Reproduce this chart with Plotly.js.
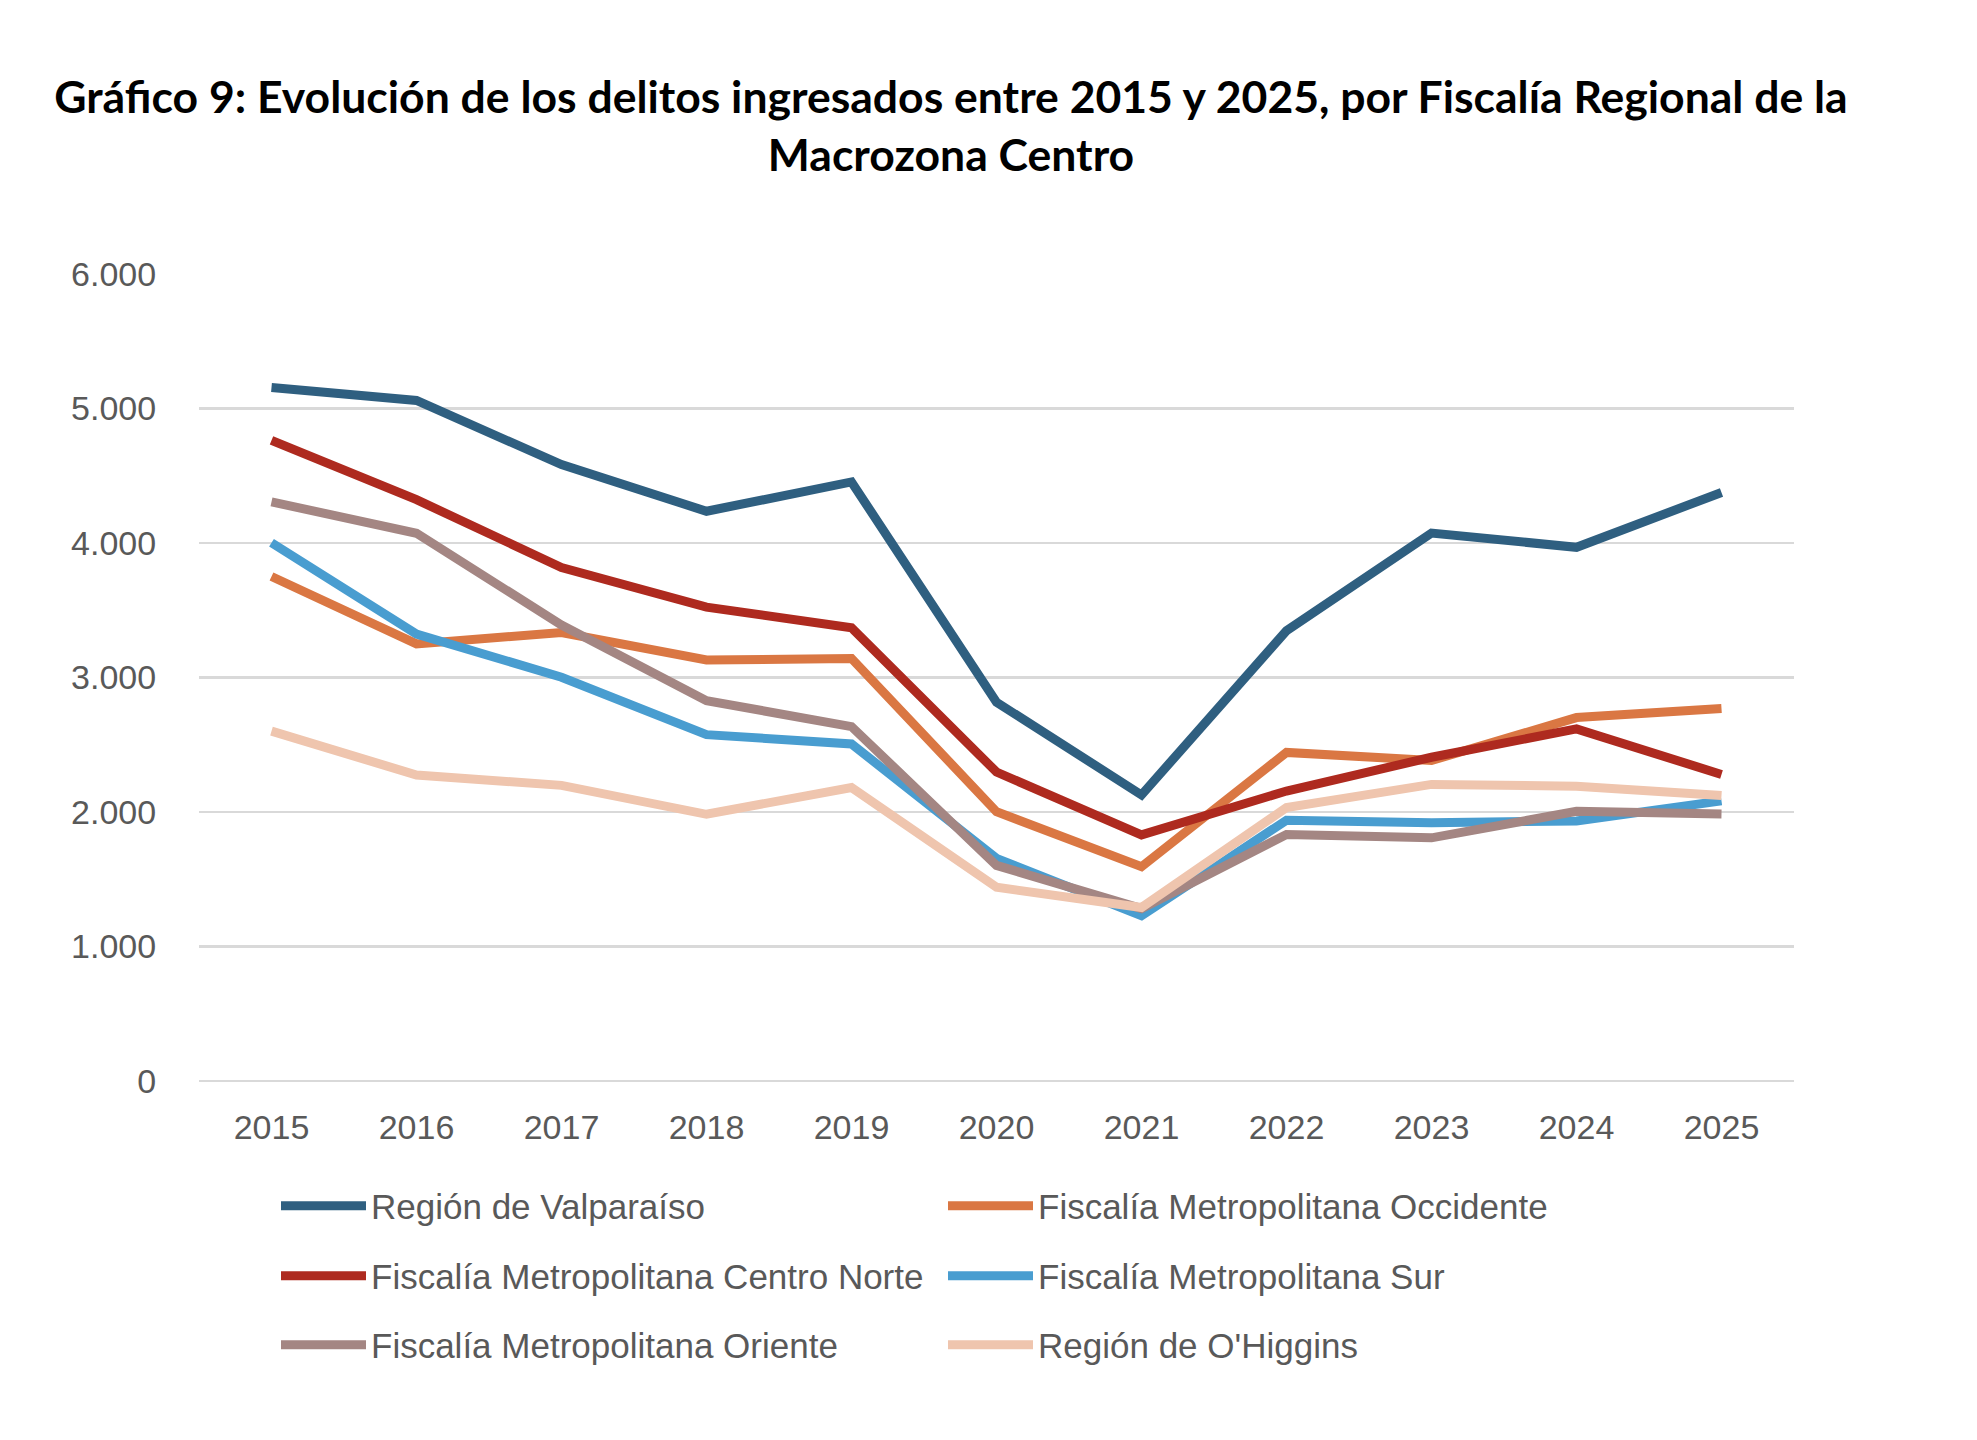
<!DOCTYPE html>
<html>
<head>
<meta charset="utf-8">
<script src="https://cdn.plot.ly/plotly-3.0.1.min.js"></script>
<style>
  html, body { margin: 0; padding: 0; background: #fff; }
  #chart { width: 1977px; height: 1440px; }
</style>
</head>
<body>
<div id="chart"></div>
<script>
  // Delitos ingresados por Fiscalía Regional, Macrozona Centro
  const years = ['2015', '2016', '2017', '2018', '2019', '2020', '2021', '2022', '2023', '2024', '2025'];

  const valparaiso = [5156, 5060, 4583, 4236, 4454, 2816, 2127, 3348, 4074, 3968, 4376];
  const occidente = [3751, 3250, 3334, 3130, 3142, 2002, 1593, 2443, 2383, 2702, 2770];
  const centroNorte = [4763, 4322, 3818, 3523, 3370, 2297, 1830, 2156, 2407, 2618, 2279];
  const sur = [4002, 3323, 3002, 2575, 2506, 1655, 1229, 1939, 1921, 1934, 2083];
  const oriente = [4306, 4072, 3390, 2828, 2635, 1603, 1282, 1833, 1808, 2005, 1986];
  const ohiggins = [2601, 2275, 2198, 1983, 2182, 1441, 1290, 2033, 2205, 2192, 2123];

  const seriesNames = [
    'Región de Valparaíso',
    'Fiscalía Metropolitana Occidente',
    'Fiscalía Metropolitana Centro Norte',
    'Fiscalía Metropolitana Sur',
    'Fiscalía Metropolitana Oriente',
    "Región de O'Higgins",
  ];
  const seriesValues = [valparaiso, occidente, centroNorte, sur, oriente, ohiggins];
  const seriesColors = ['#2f5f80', '#da7743', '#ae2a1f', '#499dd0', '#a48683', '#efc5ae'];
  // two entries per legend row
  const legendIds = ['legend', 'legend', 'legend2', 'legend2', 'legend3', 'legend3'];

  const W = 1977;
  const H = 1440;
  const textGray = '#595959';
  const gridGray = '#d9d9d9';
  const bodyFont = 'Liberation Sans, Arial, sans-serif';

  const traces = seriesNames.map((name, i) => ({
    x: years,
    y: seriesValues[i],
    name: name,
    type: 'scatter',
    mode: 'lines',
    legend: legendIds[i],
    line: { color: seriesColors[i], width: 9 },
    hoverinfo: 'skip',
  }));

  function legendRow(yPx) {
    return {
      orientation: 'h',
      xref: 'container',
      yref: 'container',
      x: 276 / W,
      y: 1 - yPx / H,
      xanchor: 'left',
      yanchor: 'middle',
      bgcolor: 'rgba(0,0,0,0)',
      borderwidth: 0,
      entrywidth: 567,
      itemwidth: 85,
      font: { family: bodyFont, size: 35, color: textGray },
    };
  }

  const layout = {
    width: W,
    height: H,
    paper_bgcolor: '#ffffff',
    plot_bgcolor: '#ffffff',
    separators: ',.',
    margin: { l: 199, r: 183, t: 274, b: 359 },
    title: {
      text: 'Gráfico 9: Evolución de los delitos ingresados entre 2015 y 2025, por Fiscalía Regional de la<br>Macrozona Centro',
      font: { family: 'Lato, sans-serif', size: 44.5, color: '#000000', weight: 'bold', lineposition: 'none' },
      x: 951 / W,
      xanchor: 'center',
      xref: 'container',
      y: 1 - 113 / H,
      yanchor: 'top',
      yref: 'container',
    },
    xaxis: {
      type: 'category',
      range: [-0.5, years.length - 0.5],
      showgrid: false,
      showline: false,
      zeroline: false,
      ticks: 'outside',
      ticklen: 16,
      tickcolor: 'rgba(0,0,0,0)',
      tickfont: { family: bodyFont, size: 34, color: textGray },
      fixedrange: true,
    },
    yaxis: {
      range: [0, 6000],
      tickvals: [0, 1000, 2000, 3000, 4000, 5000, 6000],
      tickformat: ',d',
      showgrid: true,
      gridcolor: gridGray,
      gridwidth: 2.5,
      zeroline: true,
      zerolinecolor: gridGray,
      zerolinewidth: 2.5,
      showline: false,
      ticks: 'outside',
      ticklen: 35,
      tickcolor: 'rgba(0,0,0,0)',
      tickfont: { family: bodyFont, size: 34, color: textGray },
      fixedrange: true,
    },
    showlegend: true,
    legend: legendRow(1206),
    legend2: legendRow(1276),
    legend3: legendRow(1345),
  };

  Plotly.newPlot('chart', traces, layout, { displayModeBar: false, staticPlot: true });
</script>
</body>
</html>
